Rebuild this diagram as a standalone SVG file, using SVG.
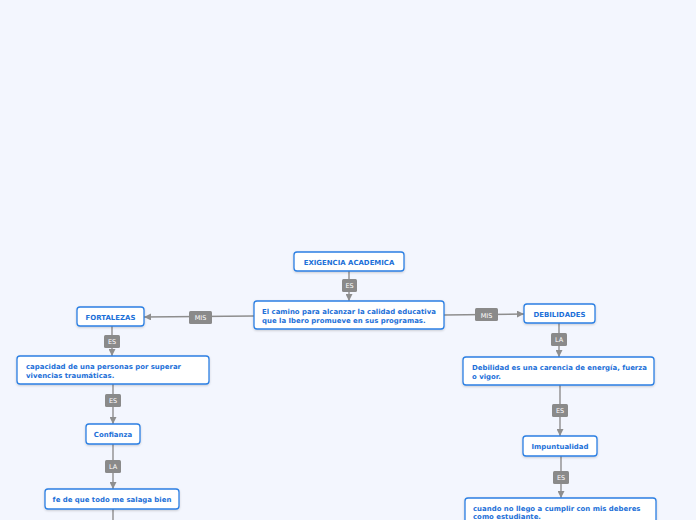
<svg xmlns="http://www.w3.org/2000/svg" width="696" height="520" viewBox="0 0 696 520">
<style>
.bg{fill:#f3f6fe}
.node rect{fill:#fff;stroke:#2b7fe3;stroke-width:1.3;filter:url(#sh)}
.node text{font-family:"DejaVu Sans",Verdana,sans-serif;font-weight:bold;font-size:6.95px;fill:#1c70d8}
.c{stroke:#8e8e8e;stroke-width:1.4;fill:none}
.lb rect{fill:#8a8a8a}
.lb text{font-family:"DejaVu Sans",Verdana,sans-serif;font-size:6.5px;fill:#fff;text-anchor:middle}
</style>
<defs>
<marker id="ar" viewBox="0 0 10 10" refX="10" refY="5" markerWidth="7" markerHeight="7" markerUnits="userSpaceOnUse" orient="auto">
<path d="M0,0 L10,5 L0,10 z" fill="#8e8e8e"/>
</marker>
<filter id="sh" x="-10%" y="-20%" width="120%" height="150%">
<feDropShadow dx="0" dy="1" stdDeviation="0.8" flood-color="#000" flood-opacity="0.18"/>
</filter>
</defs>
<rect class="bg" x="0" y="0" width="696" height="520"/>
<g id="connectors">
<line class="c" x1="349" y1="271" x2="349" y2="301" marker-end="url(#ar)"/>
<line class="c" x1="254" y1="316" x2="144" y2="317" marker-end="url(#ar)"/>
<line class="c" x1="444" y1="315" x2="524" y2="314" marker-end="url(#ar)"/>
<line class="c" x1="112" y1="326" x2="112" y2="356" marker-end="url(#ar)"/>
<line class="c" x1="113" y1="384" x2="113" y2="424" marker-end="url(#ar)"/>
<line class="c" x1="113" y1="444" x2="113" y2="489" marker-end="url(#ar)"/>
<line class="c" x1="113" y1="509" x2="113" y2="520"/>
<line class="c" x1="559" y1="323" x2="559" y2="357" marker-end="url(#ar)"/>
<line class="c" x1="560" y1="385" x2="560" y2="436" marker-end="url(#ar)"/>
<line class="c" x1="561" y1="456" x2="561" y2="498" marker-end="url(#ar)"/>
<g class="lb"><rect x="342" y="279" width="15" height="13" rx="1.5"/><text x="349.5" y="288">ES</text></g>
<g class="lb"><rect x="189" y="311" width="23" height="13" rx="1.5"/><text x="200.5" y="320">MIS</text></g>
<g class="lb"><rect x="475" y="308" width="23" height="13" rx="1.5"/><text x="486.5" y="317.5">MIS</text></g>
<g class="lb"><rect x="104" y="335" width="16" height="13" rx="1.5"/><text x="112" y="344">ES</text></g>
<g class="lb"><rect x="105" y="394" width="16" height="13" rx="1.5"/><text x="113" y="403">ES</text></g>
<g class="lb"><rect x="105" y="460" width="16" height="13" rx="1.5"/><text x="113" y="469">LA</text></g>
<g class="lb"><rect x="551" y="333" width="16" height="13" rx="1.5"/><text x="559" y="342">LA</text></g>
<g class="lb"><rect x="552" y="404" width="16" height="13" rx="1.5"/><text x="560" y="413">ES</text></g>
<g class="lb"><rect x="553" y="471" width="16" height="13" rx="1.5"/><text x="561" y="480">ES</text></g>
</g>
<g id="n1" class="node"><rect x="294" y="252" width="110" height="19" rx="3"/><text x="349" y="264.5" text-anchor="middle">EXIGENCIA ACADEMICA</text></g>
<g id="n2" class="node"><rect x="254" y="301" width="190" height="28" rx="3"/><text x="262" y="313.5">El camino para alcanzar la calidad educativa</text><text x="262" y="322.5">que la Ibero promueve en sus programas.</text></g>
<g id="n3" class="node"><rect x="77" y="307" width="67" height="19" rx="3"/><text x="110.5" y="319.5" text-anchor="middle">FORTALEZAS</text></g>
<g id="n4" class="node"><rect x="524" y="304" width="71" height="19" rx="3"/><text x="559.5" y="316.5" text-anchor="middle">DEBILIDADES</text></g>
<g id="n5" class="node"><rect x="17" y="356" width="192" height="28" rx="3"/><text x="26" y="368.5">capacidad de una personas por superar</text><text x="26" y="377.5">vivencias traumáticas.</text></g>
<g id="n6" class="node"><rect x="463" y="357" width="191" height="28" rx="3"/><text x="472" y="369.5">Debilidad es una carencia de energía, fuerza</text><text x="472" y="378.5">o vigor.</text></g>
<g id="n7" class="node"><rect x="86" y="424" width="54" height="20" rx="3"/><text x="113" y="437" text-anchor="middle">Confianza</text></g>
<g id="n8" class="node"><rect x="523" y="436" width="74" height="20" rx="3"/><text x="560" y="449" text-anchor="middle">Impuntualidad</text></g>
<g id="n9" class="node"><rect x="45" y="489" width="134" height="20" rx="3"/><text x="112" y="502" text-anchor="middle">fe de que todo me salaga bien</text></g>
<g id="n10" class="node"><rect x="465" y="498" width="191" height="30" rx="3"/><text x="473" y="510.5">cuando no llego a cumplir con mis deberes</text><text x="473" y="518.5">como estudiante.</text></g>
</svg>
